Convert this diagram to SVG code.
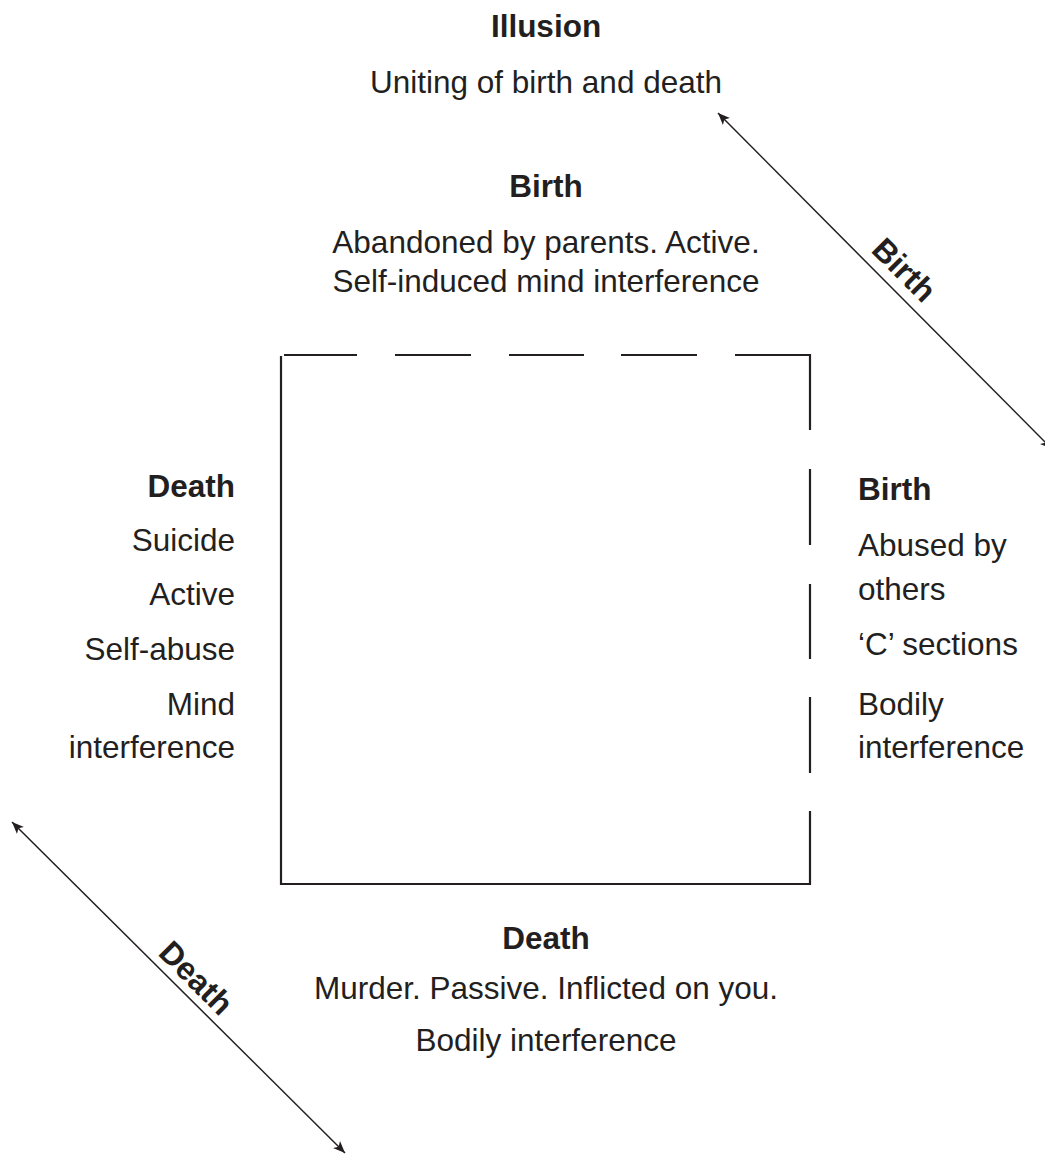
<svg xmlns="http://www.w3.org/2000/svg" width="1045" height="1155" viewBox="0 0 1045 1155">
<style>
text{font-family:"Liberation Sans",Arial,sans-serif;font-size:31.5px;fill:#231f20}
.b{font-weight:bold}
.c{text-anchor:middle}
.r{text-anchor:end}
.lbl{font-size:32px}
.box line,.box path{stroke:#231f20;stroke-width:2.2;fill:none}
.arr{stroke:#231f20;stroke-width:1.5;fill:none}
</style>
<defs>
<marker id="ah" viewBox="0 0 12 10" refX="12" refY="5" markerWidth="12" markerHeight="10" markerUnits="userSpaceOnUse" orient="auto-start-reverse">
<path d="M0,0 L12,5 L0,10 L3,5 Z" fill="#231f20"/>
</marker>
</defs>
<rect width="1045" height="1155" fill="#fff"/>
<g id="box" class="box">
<path d="M281,356 V884 H809"/>
<path d="M735,355 H810 V430"/>
<line x1="284" y1="355" x2="357" y2="355"/>
<line x1="395" y1="355" x2="471" y2="355"/>
<line x1="509" y1="355" x2="584" y2="355"/>
<line x1="621" y1="355" x2="697" y2="355"/>
<line x1="810" y1="469" x2="810" y2="545"/>
<line x1="810" y1="584" x2="810" y2="659"/>
<line x1="810" y1="697" x2="810" y2="773"/>
<line x1="810" y1="811" x2="810" y2="885"/>
</g>
<g id="connectors">
<path class="arr" d="M718,113 L1052,449" marker-start="url(#ah)" marker-end="url(#ah)"/>
<path class="arr" d="M12,822 L345,1153" marker-start="url(#ah)" marker-end="url(#ah)"/>
<text class="b c lbl" transform="translate(890,284) rotate(45)" x="0" y="-9">Birth</text>
<text class="b c lbl" transform="translate(182,992) rotate(45)" x="0" y="-9">Death</text>
</g>
<g id="illusion">
<text class="b c" x="546" y="37">Illusion</text>
<text class="c" x="546" y="93">Uniting of birth and death</text>
</g>
<g id="birth-top">
<text class="b c" x="546" y="197">Birth</text>
<text class="c" x="546" y="253">Abandoned by parents. Active.</text>
<text class="c" x="546" y="292">Self-induced mind interference</text>
</g>
<g id="death-left">
<text class="b r" x="235" y="497">Death</text>
<text class="r" x="235" y="551">Suicide</text>
<text class="r" x="235" y="605">Active</text>
<text class="r" x="235" y="660">Self-abuse</text>
<text class="r" x="235" y="715">Mind</text>
<text class="r" x="235" y="758">interference</text>
</g>
<g id="birth-right">
<text class="b" x="858" y="500">Birth</text>
<text x="858" y="556">Abused by</text>
<text x="858" y="600">others</text>
<text x="858" y="655">‘C’ sections</text>
<text x="858" y="715">Bodily</text>
<text x="858" y="758">interference</text>
</g>
<g id="death-bottom">
<text class="b c" x="546" y="949">Death</text>
<text class="c" x="546" y="999">Murder. Passive. Inflicted on you.</text>
<text class="c" x="546" y="1051">Bodily interference</text>
</g>
</svg>
